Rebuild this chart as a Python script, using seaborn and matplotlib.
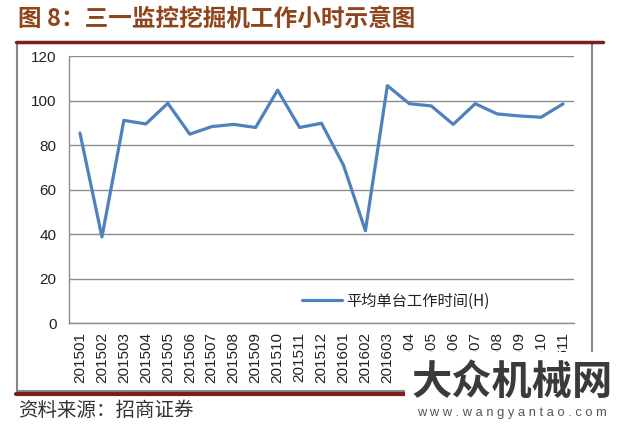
import matplotlib
matplotlib.use("Agg")
import matplotlib.pyplot as plt
import seaborn as sns
import pandas as pd
from matplotlib.patches import Rectangle
from matplotlib.lines import Line2D
from matplotlib.ticker import FixedLocator
from matplotlib.transforms import Bbox

months = ["201501", "201502", "201503", "201504", "201505", "201506", "201507",
          "201508", "201509", "201510", "201511", "201512", "201601", "201602",
          "201603", "201604", "201605", "201606", "201607", "201608", "201609",
          "201610", "201611"]
hours = [85.5, 38.8, 91.2, 89.6, 98.9, 85.0, 88.4, 89.4, 88.0, 104.8, 88.0,
         89.9, 71.1, 41.6, 106.8, 98.7, 97.7, 89.4, 98.7, 94.1, 93.2, 92.6, 98.6]
series_name = "平均单台工作时间(H)"
title_text = "图 8：三一监控挖掘机工作小时示意图"
source_text = "资料来源：招商证券"
watermark_cn = "大众机械网"
watermark_url = "w w w . w a n g y a n t a o . c o m"
yticks = [0, 20, 40, 60, 80, 100, 120]

sns.set_theme(style="white")
plt.rcParams['font.family'] = ['Liberation Sans', 'Noto Sans CJK SC', 'DejaVu Sans']

df = pd.DataFrame({"month": months, "hours": hours})

fig = plt.figure(figsize=(6.2, 4.32), dpi=100)
fig.patch.set_facecolor("white")
ax = fig.add_axes([69 / 620, 1 - 323.3 / 432, (574 - 69) / 620, (323.3 - 56.3) / 432])

sns.lineplot(data=df, x="month", y="hours", ax=ax, color="#4F81BD",
             linewidth=2.3, label=series_name, sort=False)

ax.set_ylim(0, 120)
ax.set_xlim(-0.5, len(months) - 0.5)
ax.set_yticks(yticks)
ax.set_yticklabels([str(v) for v in yticks], fontsize=11, color="#222222")
ax.set_xticks(range(len(months)))
ax.set_xticklabels(months, rotation=90, fontsize=11, color="#222222")
ax.xaxis.set_minor_locator(FixedLocator([i - 0.5 for i in range(len(months) + 1)]))
ax.tick_params(axis="x", which="major", length=0, pad=6)
ax.tick_params(axis="x", which="minor", length=5, color="#888888", width=1, direction="out")
ax.tick_params(axis="y", which="major", length=5, color="#888888", width=1, pad=4)
ax.set_xlabel("")
ax.set_ylabel("")
ax.yaxis.grid(True, color="#8c8c8c", linewidth=1)
ax.xaxis.grid(False)
for side in ["top", "right"]:
    ax.spines[side].set_visible(False)
for side in ["left", "bottom"]:
    ax.spines[side].set_color("#8c8c8c")
    ax.spines[side].set_linewidth(1)

leg = ax.legend(loc="lower right", bbox_to_anchor=(0.86, 0.0), frameon=False,
                prop={"family": ["Noto Sans CJK SC"], "size": 11},
                handlelength=2.6, handletextpad=0.3)
for t in leg.get_texts():
    t.set_color("#222222")

# tick labels that sit behind the watermark panel are clipped at its top edge
clip = Bbox.from_extents(0, 80, 620, 432)
for lab in ax.get_xticklabels()[15:]:
    lab.set_clip_box(clip)
    lab.set_clip_on(True)

# title and frame decorations
fig.text(18 / 620, 1 - 19 / 432, title_text, fontsize=17, fontweight="bold",
         color="#8E451C", va="center", ha="left", family=["Noto Sans CJK SC"])
fig.add_artist(Line2D([16 / 620, 603 / 620], [1 - 41.5 / 432] * 2,
                      color="#7A1E1E", linewidth=2.5, transform=fig.transFigure))
fig.add_artist(Rectangle((17 / 620, 1 - 391 / 432), (592 - 17) / 620, (391 - 43) / 432,
                         fill=False, edgecolor="#888888", linewidth=1.5,
                         transform=fig.transFigure))
fig.add_artist(Line2D([16 / 620, 603 / 620], [1 - 394 / 432] * 2,
                      color="#7A1E1E", linewidth=3, transform=fig.transFigure))
fig.text(18 / 620, 1 - 410 / 432, source_text, fontsize=14, color="#333333",
         va="center", ha="left", family=["Noto Sans CJK SC"])

# watermark
fig.add_artist(Rectangle((405 / 620, 0), (620 - 405) / 620, (432 - 352) / 432,
                         facecolor="white", edgecolor="none", zorder=10,
                         transform=fig.transFigure))
fig.text(512 / 620, 1 - 382 / 432, watermark_cn, fontsize=29, fontweight="bold",
         color="#3a3a3a", va="center", ha="center", zorder=11,
         family=["Noto Sans CJK SC"])
fig.text(512 / 620, 1 - 413 / 432, watermark_url, fontsize=9.3,
         color="#555555", va="center", ha="center", zorder=11)

fig.savefig("out.png", dpi=100, facecolor="white")
